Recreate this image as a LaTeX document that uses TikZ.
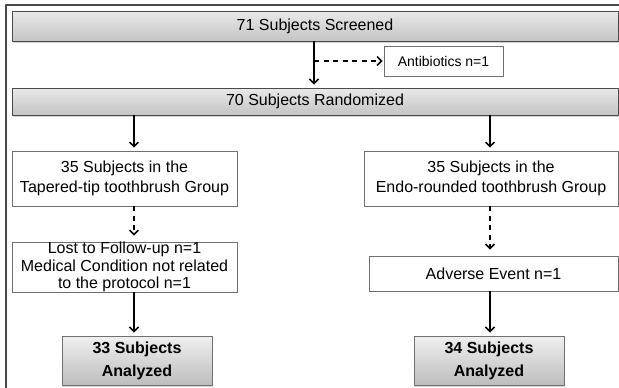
\documentclass[tikz,border=0pt]{standalone}
\usepackage{fontspec}
\setmainfont{Liberation Sans}
\usetikzlibrary{arrows.meta}
\usetikzlibrary{shadows}
\definecolor{boxline}{HTML}{707070}
\definecolor{darkline}{HTML}{4A4A4A}
\definecolor{shadetop}{HTML}{E9E9E9}
\definecolor{shadebot}{HTML}{C4C4C4}
\tikzset{
  plainbox/.style={draw=boxline,line width=0.8pt,fill=white,align=center,inner sep=0pt,font=\fontsize{16}{20.5}\selectfont},
  graybox/.style={draw=darkline,line width=0.9pt,top color=shadetop,bottom color=shadebot,align=center,inner sep=0pt,font=\fontsize{16}{20}\selectfont,drop shadow={shadow xshift=0.8pt,shadow yshift=-1.6pt,opacity=0.35}},
  anabox/.style={graybox,draw=boxline,top color=white!94!black,bottom color=white!74!black,font=\bfseries\fontsize{16}{23}\selectfont},
  flow/.style={->,line width=1.5pt,shorten >=3pt},
  dflow/.style={->,line width=1.5pt,dash pattern=on 5pt off 4.5pt,shorten >=3pt}
}
\begin{document}
\begin{tikzpicture}[line cap=butt,line join=round,>={Straight Barb[length=4.5pt,width=9pt]},x=1pt,y=-1pt]
        \useasboundingbox (0,0) rectangle (619,388);
        \draw[color=darkline,line width=1.5pt] (6,388) -- (6,5) -- (619,5);
        % screening and randomization
        \node[graybox,minimum width=606pt,minimum height=30pt] (scr) at (315,26) {71 Subjects Screened};
        \node[plainbox,minimum width=119pt,minimum height=30pt,font=\fontsize{14}{17}\selectfont] (anti) at (443.5,61) {Antibiotics n=1};
        \node[graybox,minimum width=606pt,minimum height=27pt] (rand) at (315,101.5) {70 Subjects Randomized};
        % the two groups
        \node[plainbox,minimum width=225pt,minimum height=55pt] (tap) at (124.5,178.5) {35 Subjects in the\\Tapered-tip toothbrush Group};
        \node[plainbox,minimum width=254pt,minimum height=55pt] (endo) at (491,178.5) {35 Subjects in the\\Endo-rounded toothbrush Group};
        \node[plainbox,minimum width=225pt,minimum height=50pt,font=\fontsize{16}{17.5}\selectfont] (lost) at (124.5,267) {Lost to Follow-up n=1\\Medical Condition not related\\to the protocol n=1};
        \node[plainbox,minimum width=249pt,minimum height=35pt] (adv) at (493.5,273.5) {Adverse Event n=1};
        \node[anabox,minimum width=150pt,minimum height=49pt] (ana1) at (137,360.5) {33 Subjects\\Analyzed};
        \node[anabox,minimum width=150pt,minimum height=49pt] (ana2) at (489,360.5) {34 Subjects\\Analyzed};
        \coordinate (mid) at (314,0);
        \coordinate (lcol) at (134,0);
        \coordinate (rcol) at (490,0);
        % arrows
        \draw[flow] (scr.south -| mid) -- (rand.north -| mid);
        \draw[dflow,shorten >=1pt] (mid |- anti.west) -- (anti.west);
        \draw[flow] (rand.south -| lcol) -- (tap.north -| lcol);
        \draw[flow] (rand.south -| rcol) -- (endo.north -| rcol);
        \draw[dflow,shorten >=6pt] (tap.south -| lcol) -- (lost.north -| lcol);
        \draw[dflow,shorten >=6pt] (endo.south -| rcol) -- (adv.north -| rcol);
        \draw[flow] (lost.south -| lcol) -- (ana1.north -| lcol);
        \draw[flow] (adv.south -| rcol) -- (ana2.north -| rcol);
      \end{tikzpicture}
\end{document}
